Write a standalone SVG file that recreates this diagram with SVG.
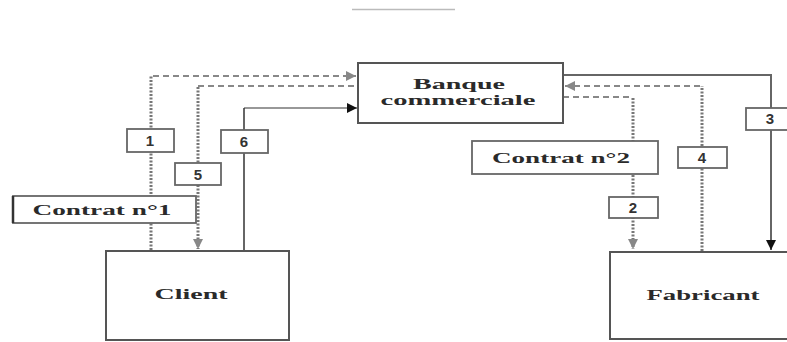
<svg xmlns="http://www.w3.org/2000/svg" width="787" height="342" viewBox="0 0 787 342">
<defs>
<style>
.box{fill:#fff;stroke:#555;stroke-width:2}
.lbl{fill:#fff;stroke:#666;stroke-width:1.8}
.t{font-family:"Liberation Serif","Times New Roman",serif;font-weight:bold;font-size:15px;fill:#2a2a2a;text-anchor:middle}
.n{font-family:"Liberation Sans",Arial,sans-serif;font-weight:bold;font-size:15px;fill:#333;text-anchor:middle}
.solid{fill:none;stroke:#666;stroke-width:2}
.dash{fill:none;stroke:#888;stroke-width:2;stroke-dasharray:6,4}
.dot{fill:none;stroke:#777;stroke-width:3;stroke-dasharray:2,1.5}
</style>
<marker id="ag" viewBox="0 0 10 10" refX="10" refY="5" markerWidth="14" markerHeight="10" markerUnits="userSpaceOnUse" orient="auto"><path d="M0,0 L10,5 L0,10 Z" fill="#888"/></marker>
<marker id="ab" viewBox="0 0 10 10" refX="10" refY="5" markerWidth="14" markerHeight="10" markerUnits="userSpaceOnUse" orient="auto"><path d="M0,0 L10,5 L0,10 Z" fill="#111"/></marker>
</defs>
<rect width="787" height="342" fill="#fff"/>
<line x1="352" y1="9.5" x2="455" y2="9.5" stroke="#bbb" stroke-width="1.5"/>
<g id="connectors">
<path class="dot" d="M151,250 V76"/>
<path class="dash" d="M153,76 H356" marker-end="url(#ag)"/>
<path class="dash" d="M198,86 H358"/>
<path class="dot" d="M198,87 V249" marker-end="url(#ag)"/>
<path class="solid" d="M244,250 V108"/>
<path d="M244,108 H357" fill="none" stroke="#333" stroke-width="1.2" marker-end="url(#ab)"/>
<path class="solid" d="M563,75 H771 V250" marker-end="url(#ab)"/>
<path class="dot" d="M702,251 V86"/>
<path class="dash" d="M700,86 H565" marker-end="url(#ag)"/>
<path class="dash" d="M563,97 H633"/>
<path class="dot" d="M633,98 V249" marker-end="url(#ag)"/>
</g>
<g id="banque"><rect class="box" x="358" y="63" width="205" height="60"/><text class="t" x="459" y="89" textLength="92" lengthAdjust="spacingAndGlyphs">Banque</text><text class="t" x="458" y="105" textLength="155" lengthAdjust="spacingAndGlyphs">commerciale</text></g>
<g id="client"><rect class="box" x="106" y="251" width="183" height="89"/><text class="t" x="191" y="299" textLength="73" lengthAdjust="spacingAndGlyphs">Client</text></g>
<g id="fabricant"><rect class="box" x="610" y="252" width="190" height="87"/><text class="t" x="703" y="300" textLength="113" lengthAdjust="spacingAndGlyphs">Fabricant</text></g>
<g id="contrat1"><rect class="lbl" x="13" y="196" width="183" height="27"/><line x1="13" y1="196" x2="13" y2="223" stroke="#333" stroke-width="2.5"/><text class="t" x="102" y="215" textLength="139" lengthAdjust="spacingAndGlyphs">Contrat n°1</text></g>
<g id="contrat2"><rect class="lbl" x="472" y="141" width="186" height="33"/><text class="t" x="561" y="163" textLength="138" lengthAdjust="spacingAndGlyphs">Contrat n°2</text></g>
<g id="l1"><rect class="lbl" x="127" y="129" width="47" height="23"/><text class="n" x="150" y="146">1</text></g>
<g id="l5"><rect class="lbl" x="175" y="163" width="46" height="22"/><text class="n" x="198" y="180">5</text></g>
<g id="l6"><rect class="lbl" x="221" y="130" width="47" height="23"/><text class="n" x="244" y="147">6</text></g>
<g id="l2"><rect class="lbl" x="609" y="197" width="49" height="21"/><text class="n" x="633" y="213">2</text></g>
<g id="l4"><rect class="lbl" x="678" y="147" width="49" height="21"/><text class="n" x="702" y="163">4</text></g>
<g id="l3"><rect class="lbl" x="746" y="108" width="50" height="22"/><text class="n" x="770" y="124">3</text></g>
</svg>
